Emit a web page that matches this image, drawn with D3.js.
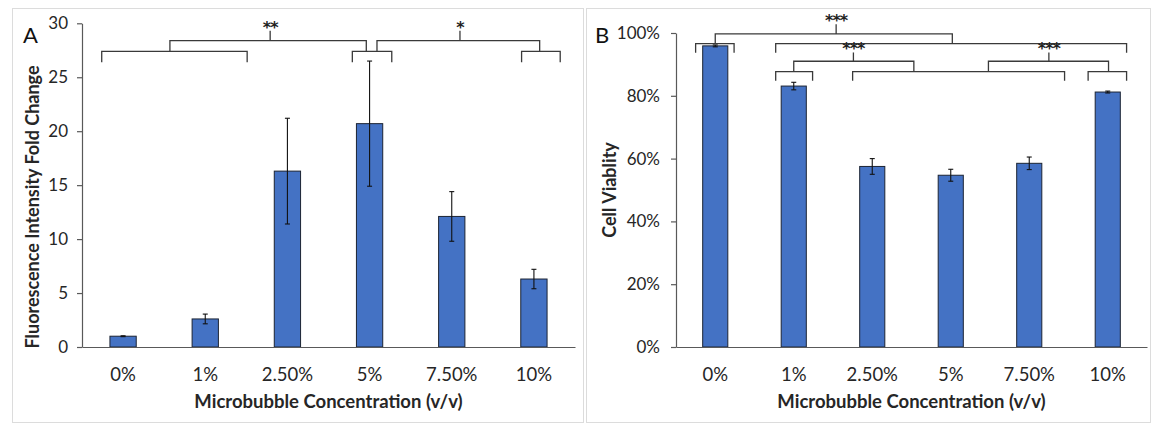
<!DOCTYPE html>
<html>
<head>
<meta charset="utf-8">
<script src="https://cdn.jsdelivr.net/npm/d3@7"></script>
<style>
  html, body { margin: 0; padding: 0; background: #fff; }
  svg { display: block; font-family: Lato, "Open Sans", sans-serif; }
</style>
</head>
<body>
<svg id="chart" width="1154" height="424"></svg>
<script>
// ---------- data ----------
const categories = ["0%", "1%", "2.50%", "5%", "7.50%", "10%"];

const foldChange    = [1.0, 2.6, 16.3, 20.7, 12.1, 6.3];
const foldChangeErr = [0.04, 0.45, 4.9, 5.8, 2.3, 0.9];
const foldTicks     = [0, 5, 10, 15, 20, 25, 30];

const viability     = [0.959, 0.831, 0.575, 0.547, 0.585, 0.812];
const viabilityErr  = [0.003, 0.012, 0.025, 0.019, 0.02, 0.003];
const viabilityTicks = [0, 0.2, 0.4, 0.6, 0.8, 1.0];

// significance brackets (x in category-index units, 0 = left of plot; y in data units)
const groupsA = [
  { from: 0.24, to: 2.01 },
  { from: 3.29, to: 3.77 },
  { from: 5.35, to: 5.82 }
];
const groupLevelA = 27.4, groupLegA = 26.4;
const linksA = [
  { from: 1.07, to: 3.46, y: 28.4, base: 27.4, mid: 2.29, top: 29.3, label: "**" },
  { from: 3.59, to: 5.57, y: 28.4, base: 27.4, mid: 4.60, top: 29.3, label: "*" }
];

const groupsB = [
  { from: 0.25, to: 0.74, y: 0.966, leg: 0.937 },
  { from: 1.27, to: 5.74, y: 0.966, leg: 0.937 },
  { from: 1.27, to: 1.74, y: 0.877, leg: 0.848 },
  { from: 2.25, to: 4.95, y: 0.877, leg: 0.848 },
  { from: 5.25, to: 5.74, y: 0.877, leg: 0.848 }
];
const linksB = [
  { from: 0.50, to: 3.52, y: 0.997, base: 0.966, mid: 2.04, top: 1.028, label: "***" },
  { from: 1.50, to: 3.03, y: 0.910, base: 0.877, mid: 2.26, top: 0.938, label: "***" },
  { from: 3.98, to: 5.51, y: 0.910, base: 0.877, mid: 4.75, top: 0.938, label: "***" }
];

// ---------- drawing ----------
const svg = d3.select("#chart");
const BAR = "#4472C4", TXT = "#262626", AXIS = "#595959", LINE = "#3a3a3a";

function panel(cfg) {
  const g = svg.append("g");
  g.append("rect")
    .attr("x", cfg.box[0] + 0.5).attr("y", cfg.box[1] + 0.5)
    .attr("width", cfg.box[2]).attr("height", cfg.box[3])
    .attr("fill", "#fff").attr("stroke", "#dcdcdc").attr("stroke-width", 1);

  const x = d3.scaleBand().domain(categories)
    .range([cfg.left, cfg.right]).paddingInner(0.68).paddingOuter(0.34);
  const xi = d3.scaleLinear().domain([0, categories.length]).range([cfg.left, cfg.right]);
  const y = d3.scaleLinear().domain(cfg.domain).range([cfg.bottom, cfg.top]);

  // y axis
  const ya = g.append("g").attr("transform", `translate(${cfg.left},0)`)
    .call(d3.axisLeft(y).tickValues(cfg.ticks).tickFormat(cfg.fmt).tickSize(5).tickSizeOuter(0).tickPadding(cfg.tickPad));
  ya.select(".domain").attr("stroke", AXIS).attr("stroke-width", 1.2);
  ya.selectAll(".tick line").attr("stroke", AXIS).attr("stroke-width", 1.2);
  ya.selectAll(".tick text").attr("fill", TXT).attr("font-size", 17)
    .attr("font-family", "Lato, sans-serif");

  // bars
  g.selectAll("rect.bar").data(cfg.values).join("rect").attr("class", "bar")
    .attr("x", (d, i) => x(categories[i]))
    .attr("y", d => y(d))
    .attr("width", x.bandwidth())
    .attr("height", d => y(0) - y(d))
    .attr("fill", BAR).attr("stroke", "#1c2433").attr("stroke-width", 1);

  // error bars
  const eg = g.append("g").attr("stroke", "#111").attr("stroke-width", 1.1);
  cfg.values.forEach((v, i) => {
    const cx = x(categories[i]) + x.bandwidth() / 2;
    const hi = y(v + cfg.errs[i]), lo = y(v - cfg.errs[i]);
    eg.append("line").attr("x1", cx).attr("x2", cx).attr("y1", hi).attr("y2", lo);
    eg.append("line").attr("x1", cx - 2.5).attr("x2", cx + 2.5).attr("y1", hi).attr("y2", hi);
    eg.append("line").attr("x1", cx - 2.5).attr("x2", cx + 2.5).attr("y1", lo).attr("y2", lo);
  });

  // x axis
  const xa = g.append("g").attr("transform", `translate(0,${cfg.bottom})`)
    .call(d3.axisBottom(x).tickSize(0).tickPadding(21));
  xa.select(".domain").attr("stroke", AXIS).attr("stroke-width", 1.2);
  xa.selectAll(".tick text").attr("fill", TXT).attr("font-size", 18.5)
    .attr("font-family", "Lato, sans-serif");

  // axis titles
  g.append("text")
    .attr("x", (cfg.left + cfg.right) / 2).attr("y", 408)
    .attr("text-anchor", "middle").attr("font-weight", "bold").attr("font-size", 18.5)
    .attr("fill", TXT).text("Microbubble Concentration (v/v)");
  g.append("text")
    .attr("transform", `translate(${cfg.yTitleX},${cfg.yTitleY}) rotate(-90)`)
    .attr("text-anchor", "middle").attr("font-weight", "bold").attr("font-size", 18)
    .attr("fill", TXT).text(cfg.yTitle);

  // panel letter
  g.append("text").attr("x", cfg.letterX).attr("y", 43)
    .attr("font-size", 22).attr("fill", "#111").text(cfg.letter);

  // brackets
  const bg = g.append("g").attr("fill", "none").attr("stroke", LINE).attr("stroke-width", 1.3);
  cfg.groups.forEach(b => {
    bg.append("path").attr("d",
      `M${xi(b.from)},${y(b.leg)}V${y(b.y)}H${xi(b.to)}V${y(b.leg)}`);
  });
  cfg.links.forEach(l => {
    bg.append("path").attr("d",
      `M${xi(l.from)},${y(l.base)}V${y(l.y)}H${xi(l.to)}V${y(l.base)}`);
    bg.append("path").attr("d", `M${xi(l.mid)},${y(l.y)}V${y(l.top)}`);
    g.append("text").attr("x", xi(l.mid)).attr("y", y(l.top) + 2)
      .attr("text-anchor", "middle").attr("font-size", 16).attr("font-weight", "bold")
      .attr("font-family", "'DejaVu Sans', sans-serif")
      .attr("letter-spacing", -1)
      .attr("fill", "#222").text(l.label);
  });
}

panel({
  box: [12, 8, 571, 414],
  left: 82, right: 575, top: 23.3, bottom: 347,
  domain: [0, 30], ticks: foldTicks, fmt: d3.format("d"), tickPad: 9,
  values: foldChange, errs: foldChangeErr,
  yTitle: "Fluorescence Intensity Fold Change", yTitleX: 39, yTitleY: 207,
  letter: "A", letterX: 23,
  groups: groupsA.map(gp => ({ from: gp.from, to: gp.to, y: groupLevelA, leg: groupLegA })),
  links: linksA
});

panel({
  box: [586, 8, 564, 414],
  left: 676, right: 1147, top: 33, bottom: 347,
  domain: [0, 1], ticks: viabilityTicks, fmt: d3.format(".0%"), tickPad: 11,
  values: viability, errs: viabilityErr,
  yTitle: "Cell Viablity", yTitleX: 616, yTitleY: 190,
  letter: "B", letterX: 595,
  groups: groupsB, links: linksB
});
</script>
</body>
</html>
